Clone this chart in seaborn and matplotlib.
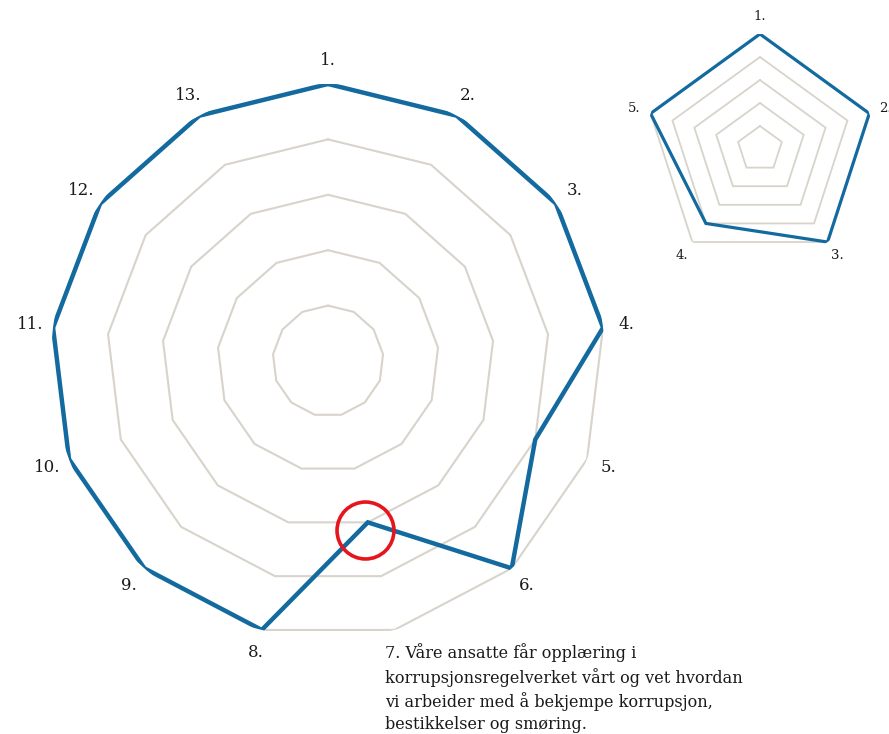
import numpy as np
import pandas as pd
import matplotlib
matplotlib.use("Agg")
import matplotlib.pyplot as plt
import seaborn as sns

# big radar: 13 statements, scale 0-5
big_labels = ["1.", "2.", "3.", "4.", "5.", "6.",
              "7. Våre ansatte får opplæring i\nkorrupsjonsregelverket vårt og vet hvordan\n"
              "vi arbeider med å bekjempe korrupsjon,\nbestikkelser og smøring.",
              "8.", "9.", "10.", "11.", "12.", "13."]
big_values = [5, 5, 5, 5, 4, 5, 3, 5, 5, 5, 5, 5, 5]

# small radar: 5 statements
small_labels = ["1.", "2.", "3.", "4.", "5."]
small_values = [5, 5, 5, 4, 5]

ring_levels = [1, 2, 3, 4, 5]

line_color = "#136a9f"
grid_color = "#d8d3cb"

sns.set_style("white")
plt.rcParams["font.family"] = ["DejaVu Serif"]
plt.rcParams["lines.solid_joinstyle"] = "miter"
plt.rcParams["path.simplify"] = False

fig = plt.figure(figsize=(8.89, 7.34), dpi=100)


def radar(rect, labels, values, lw, grid_lw):
    ax = fig.add_axes(rect, projection="polar")
    ax.set_theta_zero_location("N")
    ax.set_theta_direction(-1)
    n = len(labels)
    theta = np.linspace(0, 2 * np.pi, n, endpoint=False)
    closed = np.append(theta, 2 * np.pi)

    for lvl in ring_levels:
        ax.plot(closed, [lvl] * (n + 1), color=grid_color, lw=grid_lw, zorder=1)

    df = pd.DataFrame({"theta": closed, "value": values + values[:1]})
    sns.lineplot(data=df, x="theta", y="value", ax=ax, sort=False,
                 color=line_color, linewidth=lw, zorder=3)

    ax.set_ylim(0, 5)
    ax.set_xticks([])
    ax.set_yticks([])
    ax.grid(False)
    ax.spines["polar"].set_visible(False)
    ax.set_xlabel("")
    ax.set_ylabel("")
    return ax, theta


ax_big, th_big = radar([0.0574, 0.1308, 0.6232, 0.7548], big_labels, big_values, 3.2, 1.5)
for i, lab in enumerate(big_labels):
    if i == 6:
        ax_big.annotate(lab, xy=(th_big[i], 5.45), xytext=(-11, 8),
                        textcoords="offset points", ha="left", va="top",
                        fontsize=11.6, linespacing=1.38, color="#1a1a1a",
                        annotation_clip=False)
    else:
        ax_big.text(th_big[i], 5.42, lab, ha="center", va="center", fontsize=12,
                    color="#1a1a1a", clip_on=False)

# red highlight circle around statement 7
ax_big.plot([th_big[6] + 0.026], [3.12], marker="o", markersize=41, fillstyle="none",
            markeredgecolor="#e8141c", markeredgewidth=2.6, zorder=5, clip_on=False)

ax_small, th_small = radar([0.7255, 0.6403, 0.2587, 0.3134], small_labels, small_values,
                           2.3, 1.3)
for i, lab in enumerate(small_labels):
    ax_small.text(th_small[i], 5.75, lab, ha="center", va="center", fontsize=9.5,
                  color="#1a1a1a", clip_on=False)

fig.savefig("out.png", dpi=100, facecolor="white")
